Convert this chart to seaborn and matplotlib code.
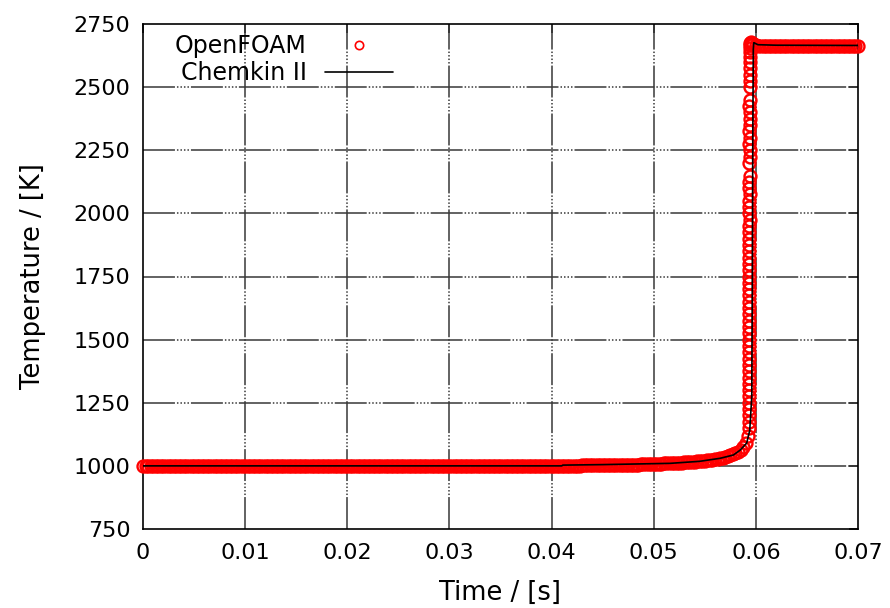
import matplotlib
matplotlib.use("Agg")
import matplotlib.pyplot as plt
from matplotlib.lines import Line2D
import seaborn as sns
import pandas as pd

# ---------------- data (times in ms, temperatures in K) ----------------
openfoam_time_ms = [
    0, 0.25, 0.5, 0.75, 1, 1.25, 1.5, 1.75, 2, 2.25, 2.5, 2.75, 3, 3.25, 3.5, 3.75,
    4, 4.25, 4.5, 4.75, 5, 5.25, 5.5, 5.75, 6, 6.25, 6.5, 6.75, 7, 7.25, 7.5, 7.75,
    8, 8.25, 8.5, 8.75, 9, 9.25, 9.5, 9.75, 10, 10.25, 10.5, 10.75, 11, 11.25, 11.5, 11.75,
    12, 12.25, 12.5, 12.75, 13, 13.25, 13.5, 13.75, 14, 14.25, 14.5, 14.75, 15, 15.25, 15.5, 15.75,
    16, 16.25, 16.5, 16.75, 17, 17.25, 17.5, 17.75, 18, 18.25, 18.5, 18.75, 19, 19.25, 19.5, 19.75,
    20, 20.25, 20.5, 20.75, 21, 21.25, 21.5, 21.75, 22, 22.25, 22.5, 22.75, 23, 23.25, 23.5, 23.75,
    24, 24.25, 24.5, 24.75, 25, 25.25, 25.5, 25.75, 26, 26.25, 26.5, 26.75, 27, 27.25, 27.5, 27.75,
    28, 28.25, 28.5, 28.75, 29, 29.25, 29.5, 29.75, 30, 30.25, 30.5, 30.75, 31, 31.25, 31.5, 31.75,
    32, 32.25, 32.5, 32.75, 33, 33.25, 33.5, 33.75, 34, 34.25, 34.5, 34.75, 35, 35.25, 35.5, 35.75,
    36, 36.25, 36.5, 36.75, 37, 37.25, 37.5, 37.75, 38, 38.25, 38.5, 38.75, 39, 39.25, 39.5, 39.75,
    40, 40.25, 40.5, 40.75, 41, 41.25, 41.5, 41.75, 42, 42.25, 42.5, 42.75, 43, 43.25, 43.5, 43.75,
    44, 44.25, 44.5, 44.75, 45, 45.25, 45.5, 45.75, 46, 46.25, 46.5, 46.75, 47, 47.25, 47.5, 47.75,
    48, 48.25, 48.5, 48.75, 49, 49.25, 49.5, 49.75, 50, 50.25, 50.5, 50.75, 51, 51.25, 51.5, 51.75,
    52, 52.25, 52.5, 52.75, 53, 53.25, 53.5, 53.75, 54, 54.25, 54.5, 54.75, 55, 55.25, 55.5, 55.75,
    56, 56.25, 56.5, 56.75, 57, 57.25, 57.5, 57.75, 58, 58.25, 58.5, 58.75, 59, 59.25,
    # ignition (steep rise)
    59.28, 59.30, 59.29, 59.31, 59.30, 59.32, 59.31, 59.33, 59.32, 59.30, 59.33, 59.31,
    59.34, 59.32, 59.33, 59.35, 59.33, 59.34, 59.32, 59.35, 59.34, 59.36, 59.33, 59.35,
    59.34, 59.36, 59.35, 59.37, 59.34, 59.36, 59.35, 59.37, 59.36, 59.38, 59.35, 59.37,
    59.36, 59.38, 59.37, 59.36, 59.38, 59.37, 59.39, 59.38, 59.36, 59.38, 59.37, 59.39,
    59.38, 59.40, 59.37, 59.39, 59.38, 59.40, 59.39, 59.38, 59.40, 59.39, 59.41, 59.40,
    59.41,
    # burnt plateau
    59.45, 59.5, 59.6, 59.75, 60,
    60.25, 60.5, 60.75, 61, 61.25, 61.5, 61.75, 62, 62.25, 62.5, 62.75, 63, 63.25, 63.5,
    63.75, 64, 64.25, 64.5, 64.75, 65, 65.25, 65.5, 65.75, 66, 66.25, 66.5, 66.75, 67,
    67.25, 67.5, 67.75, 68, 68.25, 68.5, 68.75, 69, 69.25, 69.5, 69.75, 70,
]
openfoam_temp_K = [
    1000, 1000, 1000, 1000, 1000, 1000, 1000, 1000, 1000, 1000, 1000, 1000, 1000, 1000, 1000, 1000,
    1000, 1000, 1000, 1000, 1000, 1000, 1000, 1000, 1000, 1000, 1000, 1000, 1000, 1000, 1000, 1000,
    1000, 1000, 1000, 1000, 1000, 1000, 1000, 1000, 1000, 1000, 1000, 1000, 1000, 1000, 1000, 1000,
    1000, 1000, 1000, 1000, 1000, 1000, 1000, 1000, 1000, 1000, 1000, 1000, 1000, 1000, 1000, 1000,
    1000, 1000, 1000, 1000, 1000, 1000, 1000, 1000, 1000, 1000, 1000, 1000, 1000, 1000, 1000, 1000,
    1000, 1000, 1000, 1000, 1000, 1000, 1000, 1000, 1000, 1000, 1000, 1000, 1000, 1000, 1000, 1000,
    1000, 1000, 1000, 1000, 1000, 1000, 1000, 1000, 1000, 1000, 1000, 1000, 1000, 1000, 1000, 1000,
    1000, 1000, 1000, 1000, 1000, 1000, 1000, 1000, 1000, 1000, 1000, 1000, 1000, 1000, 1000, 1000,
    1000, 1000, 1000, 1000, 1000, 1000, 1000, 1000, 1000, 1000, 1000, 1000, 1000, 1000, 1000, 1000,
    1000, 1000, 1000, 1000, 1000, 1000, 1000, 1000, 1000, 1000, 1000, 1000, 1000, 1000, 1000, 1000,
    1000, 1001, 1001, 1001, 1001, 1001, 1001, 1001, 1001, 1001, 1001, 1001, 1002, 1002, 1002, 1002,
    1002, 1002, 1002, 1002, 1003, 1003, 1003, 1003, 1003, 1004, 1004, 1004, 1004, 1004, 1004, 1004,
    1004, 1005, 1005, 1006, 1006, 1006, 1007, 1007, 1008, 1008, 1009, 1009, 1010, 1010, 1011, 1011,
    1012, 1012, 1013, 1013, 1014, 1015, 1015, 1016, 1017, 1018, 1019, 1020, 1021, 1022, 1024, 1025,
    1027, 1029, 1031, 1033, 1036, 1039, 1042, 1046, 1050, 1056, 1064, 1075, 1090, 1120,
    # ignition (steep rise)
    1150, 1175, 1200, 1225, 1250, 1275, 1300, 1325, 1350, 1375, 1400, 1425,
    1450, 1475, 1500, 1525, 1550, 1575, 1600, 1625, 1650, 1675, 1700, 1725,
    1750, 1775, 1800, 1825, 1850, 1875, 1900, 1925, 1950, 1975, 2000, 2025,
    2050, 2075, 2100, 2125, 2150, 2200, 2225, 2250, 2275, 2300, 2325, 2350,
    2375, 2400, 2425, 2450, 2500, 2525, 2550, 2575, 2600, 2620, 2640, 2655,
    2668,
    # burnt plateau
    2676, 2678, 2675, 2670, 2666,
    2664, 2663, 2663, 2663, 2663, 2663, 2663, 2663, 2662, 2662, 2662, 2662, 2662, 2662,
    2662, 2662, 2662, 2662, 2662, 2662, 2662, 2662, 2662, 2662, 2662, 2662, 2662, 2662,
    2662, 2662, 2662, 2662, 2662, 2662, 2662, 2662, 2662, 2662, 2662, 2662,
]

chemkin_time_ms = [0, 41, 41.1, 45, 51.6, 54.5, 56.5, 57.8, 58.45, 59.1, 59.4, 59.6,
                   59.65, 59.7, 59.75, 59.8, 59.9, 60.2, 62, 70]
chemkin_temp_K = [1000, 1000, 1003, 1005, 1010, 1018, 1030, 1043, 1062, 1090, 1140, 1275,
                  1700, 2300, 2650, 2676, 2674, 2668, 2666, 2665]

x_ticks = [0, 0.01, 0.02, 0.03, 0.04, 0.05, 0.06, 0.07]
x_tick_labels = ["0", "0.01", "0.02", "0.03", "0.04", "0.05", "0.06", "0.07"]
y_ticks = [750, 1000, 1250, 1500, 1750, 2000, 2250, 2500, 2750]

series_names = ["OpenFOAM", "Chemkin II"]
x_label = "Time / [s]"
y_label = "Temperature / [K]"

# ---------------- build frames ----------------
df_of = pd.DataFrame({"time": [t / 1000.0 for t in openfoam_time_ms], "T": openfoam_temp_K})
df_ck = pd.DataFrame({"time": [t / 1000.0 for t in chemkin_time_ms], "T": chemkin_temp_K})

sns.set_style("white")
plt.rcParams["font.family"] = ["DejaVu Sans"]
plt.rcParams["lines.scale_dashes"] = False
plt.rcParams["text.color"] = "black"
plt.rcParams["axes.labelcolor"] = "black"

fig = plt.figure(figsize=(8.9, 6.08), dpi=100)
W, H = 890.0, 608.0
ax = fig.add_axes([143 / W, 1 - 529 / H, (858 - 143) / W, (529 - 24) / H])

grid_dash = (0, (23, 1.44, 1.08, 1.44, 1.08, 1.44, 1.08, 1.44, 1.08, 1.44))
for xv in x_ticks[1:-1]:
    ax.axvline(xv, color="#383838", lw=1.1, linestyle=grid_dash, zorder=1)
for yv in y_ticks[1:-1]:
    ax.axhline(yv, color="#383838", lw=1.1, linestyle=grid_dash, zorder=1)

sns.lineplot(data=df_of, x="time", y="T", ax=ax, sort=False, estimator=None,
             linestyle="", marker="o", markersize=8.6, markerfacecolor="none",
             markeredgecolor="#ff0000", markeredgewidth=1.7, color="#ff0000",
             clip_on=False, zorder=3)
sns.lineplot(data=df_ck, x="time", y="T", ax=ax, sort=False, estimator=None,
             color="black", lw=1.2, zorder=4)

ax.set_xlim(0, 0.07)
ax.set_ylim(750, 2750)
ax.set_xticks(x_ticks)
ax.set_xticklabels(x_tick_labels)
ax.set_yticks(y_ticks)
ax.tick_params(axis="both", direction="in", length=6.5, width=1.1, labelsize=16,
               top=True, right=True, colors="black", pad=9)
ax.tick_params(axis="x", pad=10)
for s in ax.spines.values():
    s.set_visible(True)
    s.set_color("black")
    s.set_linewidth(1.2)

ax.set_xlabel(x_label, fontsize=18.5, labelpad=12, color="black")
ax.set_ylabel(y_label, fontsize=18.5, labelpad=20, color="black")

handles = [
    Line2D([], [], linestyle="", marker="o", markersize=6, markerfacecolor="none",
           markeredgecolor="#ff0000", markeredgewidth=1.2),
    Line2D([], [], color="black", lw=1.2),
]
leg = ax.legend(handles, series_names, loc="upper right", frameon=False,
                markerfirst=False, fontsize=17, handlelength=2.9, handletextpad=0.75,
                labelspacing=0.12, borderpad=0, borderaxespad=0,
                bbox_to_anchor=(393 / W, 1 - 34 / H), bbox_transform=fig.transFigure)
for t in leg.get_texts():
    t.set_color("black")

fig.savefig("out.png", dpi=100)
